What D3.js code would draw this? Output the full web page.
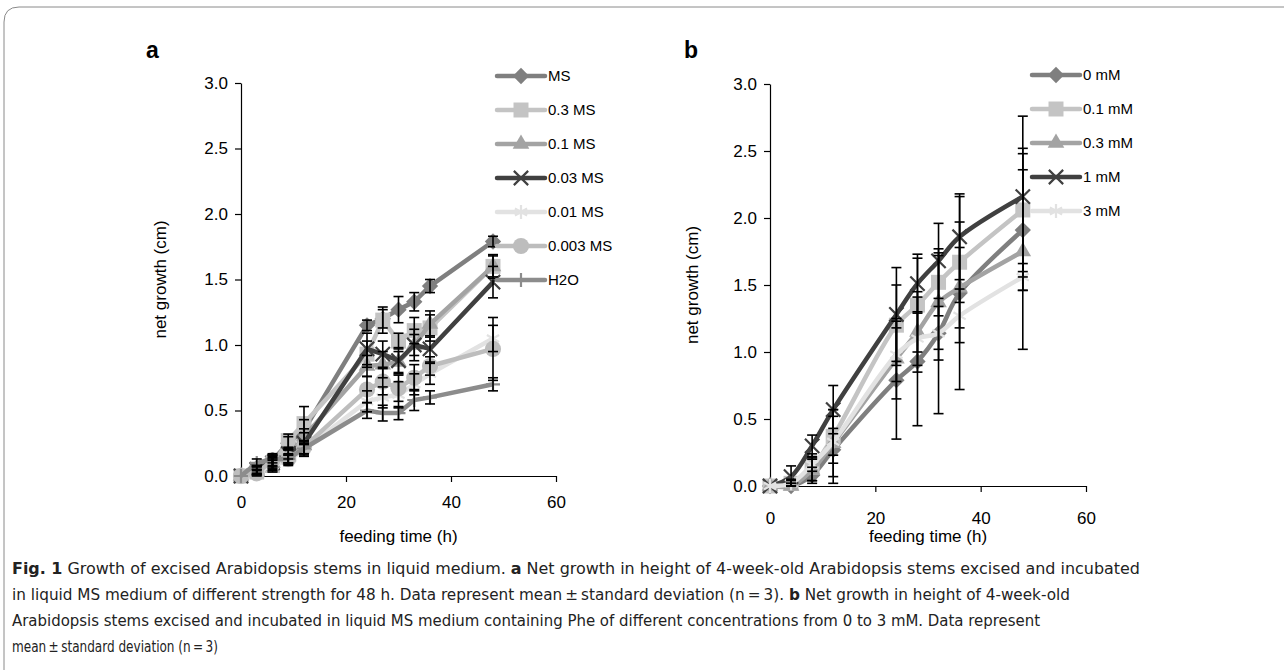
<!DOCTYPE html>
<html>
<head>
<meta charset="utf-8">
<script src="https://cdn.jsdelivr.net/npm/d3@7"></script>
<style>
  html, body { margin: 0; padding: 0; background: #fff; }
  svg { display: block; }
</style>
</head>
<body>
<div id="chart"></div>
<script>
//
// Panel a: growth in MS medium of different strength
//
const timeA = [0, 3, 6, 9, 12, 24, 27, 30, 33, 36, 48]
const msFull = [0, 0.05, 0.12, 0.25, 0.35, 1.15, 1.2, 1.27, 1.33, 1.45, 1.79]
const ms03 = [0, 0.03, 0.08, 0.27, 0.4, 0.93, 1.19, 1.03, 1.11, 1.13, 1.6]
const ms01 = [0, 0.04, 0.1, 0.15, 0.3, 0.84, 0.85, 0.87, 1.0, 1.16, 1.6]
const ms003 = [0, 0.05, 0.1, 0.17, 0.25, 0.97, 0.93, 0.88, 1.0, 0.97, 1.48]
const ms001 = [0, 0.03, 0.08, 0.12, 0.2, 0.57, 0.6, 0.62, 0.7, 0.78, 1.05]
const ms0003 = [0, 0.02, 0.12, 0.13, 0.22, 0.66, 0.72, 0.67, 0.75, 0.84, 0.97]
const h2o = [0, 0.1, 0.13, 0.13, 0.21, 0.5, 0.48, 0.48, 0.58, 0.6, 0.7]
const sdMsFull = [0, 0.03, 0.05, 0.05, 0.08, 0.04, 0.07, 0.1, 0.07, 0.05, 0.04]
const sdMs03 = [0, 0.02, 0.05, 0.05, 0.13, 0.1, 0.1, 0.06, 0.1, 0.1, 0.09]
const sdMs01 = [0, 0.03, 0.04, 0.05, 0.06, 0.08, 0.1, 0.08, 0.08, 0.1, 0.08]
const sdMs003 = [0, 0.03, 0.05, 0.04, 0.08, 0.12, 0.1, 0.1, 0.12, 0.1, 0.12]
const sdMs001 = [0, 0.02, 0.04, 0.04, 0.05, 0.08, 0.08, 0.1, 0.08, 0.08, 0.1]
const sdMs0003 = [0, 0.02, 0.04, 0.04, 0.05, 0.1, 0.1, 0.1, 0.1, 0.07, 0.24]
const sdH2o = [0, 0.03, 0.03, 0.03, 0.05, 0.06, 0.06, 0.05, 0.08, 0.05, 0.05]
const namesA = ['MS', '0.3 MS', '0.1 MS', '0.03 MS', '0.01 MS', '0.003 MS', 'H2O']

//
// Panel b: growth with Phe of different concentrations
//
const timeB = [0, 4, 8, 12, 24, 28, 32, 36, 48]
const phe0 = [0, 0, 0.08, 0.27, 0.79, 0.93, 1.14, 1.44, 1.91]
const phe01 = [0, 0.02, 0.14, 0.37, 1.2, 1.35, 1.52, 1.67, 2.06]
const phe03 = [0, 0, 0.12, 0.32, 0.95, 1.15, 1.37, 1.48, 1.75]
const phe1 = [0, 0.07, 0.3, 0.57, 1.28, 1.51, 1.68, 1.86, 2.16]
const phe3 = [0, 0.02, 0.16, 0.33, 0.98, 1.1, 1.14, 1.27, 1.56]
const sdPhe0 = [0, 0.02, 0.06, 0.25, 0.44, 0.48, 0.6, 0.72, 0.45]
const sdPhe01 = [0, 0.03, 0.1, 0.2, 0.3, 0.35, 0.25, 0.3, 0.46]
const sdPhe03 = [0, 0.02, 0.08, 0.25, 0.3, 0.3, 0.35, 0.3, 0.73]
const sdPhe1 = [0, 0.08, 0.08, 0.18, 0.35, 0.22, 0.28, 0.32, 0.6]
const sdPhe3 = [0, 0.02, 0.05, 0.1, 0.2, 0.2, 0.2, 0.2, 0.1]
const namesB = ['0 mM', '0.1 mM', '0.3 mM', '1 mM', '3 mM']

const xTicks = [0, 20, 40, 60]
const yTicks = [0, 0.5, 1, 1.5, 2, 2.5, 3]

const captionLines = [
  [['Fig. 1', true], ['  Growth of excised Arabidopsis stems in liquid medium. ', false], ['a', true], [' Net growth in height of 4-week-old Arabidopsis stems excised and incubated', false]],
  [['in liquid MS medium of different strength for 48 h. Data represent mean\u2009\u00b1\u2009standard deviation (n\u2009=\u20093). ', false], ['b', true], [' Net growth in height of 4-week-old', false]],
  [['Arabidopsis stems excised and incubated in liquid MS medium containing Phe of different concentrations from 0 to 3 mM. Data represent', false]],
  [['mean\u2009\u00b1\u2009standard deviation (n\u2009=\u20093)', false]]
]
const captionWidths = [1128, 1058, 1028, 206]

//
// marker styles (Excel grey-scale look)
//
const styleA = [
  { color: '#7f7f7f', type: 'diamond' },
  { color: '#c4c4c4', type: 'square' },
  { color: '#a3a3a3', type: 'triangle' },
  { color: '#404040', type: 'times' },
  { color: '#e2e2e2', type: 'asterisk' },
  { color: '#bdbdbd', type: 'circle' },
  { color: '#8c8c8c', type: 'plus' }
]
const styleB = styleA.slice(0, 5)

const W = 1284
const H = 670
const svg = d3.select('#chart').append('svg')
  .attr('width', W).attr('height', H)
  .style('font-family', '"Liberation Sans", Arial, sans-serif')

// figure frame
svg.append('path')
  .attr('d', 'M4,' + (H + 5) + ' L4,22 Q4,7 19,7 L' + (W + 5) + ',7')
  .attr('fill', 'none').attr('stroke', '#8a8a8a').attr('stroke-width', 1)

function symbolPath (type) {
  const map = {
    diamond: [d3.symbolDiamond2, 170],
    square: [d3.symbolSquare, 225],
    triangle: [d3.symbolTriangle, 120],
    times: [d3.symbolTimes, 135],
    asterisk: [d3.symbolAsterisk, 140],
    circle: [d3.symbolCircle, 205],
    plus: [d3.symbolPlus, 66]
  }
  const m = map[type]
  return d3.symbol().type(m[0]).size(m[1])()
}
function isStroke (type) {
  return type === 'times' || type === 'asterisk' || type === 'plus'
}
function drawMarker (g, st, x, y) {
  const p = g.append('path')
    .attr('d', symbolPath(st.type))
    .attr('transform', 'translate(' + x + ',' + y + ')')
  if (isStroke(st.type)) {
    p.attr('fill', 'none').attr('stroke', st.color).attr('stroke-width', 2.2)
  } else {
    p.attr('fill', st.color)
  }
}

function drawPanel (opt) {
  const x = d3.scaleLinear().domain([0, 60]).range(opt.xRange)
  const y = d3.scaleLinear().domain([0, 3]).range(opt.yRange)
  const g = svg.append('g')

  // axes
  const yAxis = g.append('g')
    .attr('transform', 'translate(' + opt.xRange[0] + ',0)')
    .call(d3.axisLeft(y).tickValues(yTicks).tickFormat(d3.format('.1f')).tickSize(6).tickSizeOuter(0))
  const xAxis = g.append('g')
    .attr('transform', 'translate(0,' + opt.yRange[0] + ')')
    .call(d3.axisBottom(x).tickValues(xTicks).tickSize(6).tickSizeOuter(0))
  ;[yAxis, xAxis].forEach(a => {
    a.selectAll('path, line').attr('stroke', '#000').attr('stroke-width', 1.2)
    a.selectAll('text').attr('font-size', 17).attr('fill', '#000').attr('font-family', '"Liberation Sans", Arial, sans-serif')
  })
  yAxis.selectAll('text').attr('x', -13)
  xAxis.selectAll('text').attr('y', opt.xTickY)

  // axis titles
  g.append('text')
    .attr('transform', 'translate(' + opt.yTitleX + ',' + (opt.yRange[0] + opt.yRange[1]) / 2 + ') rotate(-90)')
    .attr('text-anchor', 'middle').attr('dy', '0.35em').attr('font-size', 17)
    .text('net growth (cm)')
  g.append('text')
    .attr('x', (opt.xRange[0] + opt.xRange[1]) / 2).attr('y', opt.xTitleY)
    .attr('text-anchor', 'middle').attr('font-size', 17)
    .text('feeding time (h)')
  g.append('text')
    .attr('x', opt.letterX).attr('y', 58)
    .attr('font-size', 23).attr('font-weight', 'bold')
    .text(opt.letter)

  const line = d3.line()
    .x(d => x(d[0])).y(d => y(d[1]))
    .curve(opt.smooth ? d3.curveCatmullRom.alpha(0.5) : d3.curveLinear)

  // series lines and markers
  opt.series.forEach((s, i) => {
    const st = opt.styles[i]
    const pts = opt.time.map((t, j) => [t, s[j]])
    g.append('path').datum(pts)
      .attr('d', line).attr('fill', 'none')
      .attr('stroke', st.color).attr('stroke-width', 4.5)
      .attr('stroke-linejoin', 'round')
    pts.forEach(p => drawMarker(g, st, x(p[0]), y(p[1])))
  })

  // error bars
  const eb = g.append('g').attr('stroke', '#000').attr('stroke-width', 1.6)
  opt.series.forEach((s, i) => {
    opt.time.forEach((t, j) => {
      const sd = opt.sd[i][j]
      if (!sd) return
      const cx = x(t)
      const y0 = y(Math.max(0, s[j] - sd))
      const y1 = y(s[j] + sd)
      eb.append('line').attr('x1', cx).attr('x2', cx).attr('y1', y0).attr('y2', y1)
      eb.append('line').attr('x1', cx - 5).attr('x2', cx + 5).attr('y1', y1).attr('y2', y1)
      eb.append('line').attr('x1', cx - 5).attr('x2', cx + 5).attr('y1', y0).attr('y2', y0)
    })
  })

  // legend
  const lg = g.append('g')
  opt.names.forEach((n, i) => {
    const st = opt.styles[i]
    const ly = opt.legendY + i * 34
    lg.append('line')
      .attr('x1', opt.legendX).attr('x2', opt.legendX + 48)
      .attr('y1', ly).attr('y2', ly)
      .attr('stroke', st.color).attr('stroke-width', 4.5).attr('stroke-linecap', 'round')
    drawMarker(lg, st, opt.legendX + 24, ly)
    lg.append('text')
      .attr('x', opt.legendX + 51).attr('y', ly).attr('dy', '0.35em')
      .attr('font-size', 15).text(n)
  })
}

drawPanel({
  letter: 'a',
  letterX: 146,
  xRange: [241, 556],
  yRange: [476, 83],
  xTickY: 20,
  yTitleX: 160,
  xTitleY: 542,
  smooth: false,
  time: timeA,
  series: [msFull, ms03, ms01, ms003, ms001, ms0003, h2o],
  sd: [sdMsFull, sdMs03, sdMs01, sdMs003, sdMs001, sdMs0003, sdH2o],
  names: namesA,
  styles: styleA,
  legendX: 497,
  legendY: 76
})

drawPanel({
  letter: 'b',
  letterX: 684,
  xRange: [770, 1086],
  yRange: [486, 84],
  xTickY: 26,
  yTitleX: 692,
  xTitleY: 542,
  smooth: true,
  time: timeB,
  series: [phe0, phe01, phe03, phe1, phe3],
  sd: [sdPhe0, sdPhe01, sdPhe03, sdPhe1, sdPhe3],
  names: namesB,
  styles: styleB,
  legendX: 1032,
  legendY: 75
})

//
// caption
//
const cap = svg.append('g')
  .style('font-family', '"Liberation Sans Narrow", "DejaVu Sans Condensed", "Liberation Sans", sans-serif')
captionLines.forEach((parts, i) => {
  const t = cap.append('text')
    .attr('x', 12).attr('y', 574 + i * 26)
    .attr('font-size', 16.5).attr('fill', '#222')
    .attr('textLength', captionWidths[i]).attr('lengthAdjust', 'spacingAndGlyphs')
  parts.forEach(p => {
    t.append('tspan').attr('font-weight', p[1] ? 'bold' : 'normal').text(p[0])
  })
})
</script>
</body>
</html>
